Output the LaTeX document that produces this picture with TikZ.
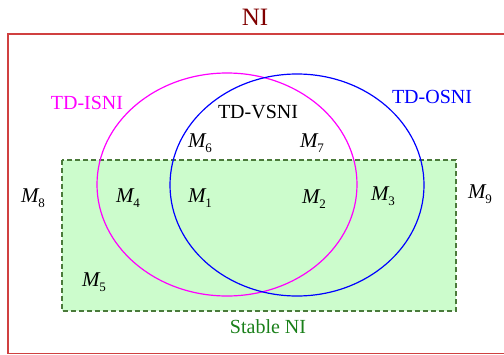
\documentclass[tikz,border=0pt]{standalone}
\usepackage{fontspec}
\setmainfont{Liberation Serif}
\usetikzlibrary{shapes.geometric}
\definecolor{nired}{HTML}{D04040}
\definecolor{nitext}{HTML}{800000}
\definecolor{stfill}{HTML}{CCFCCC}
\definecolor{stborder}{HTML}{4A7A3A}
\definecolor{sttext}{HTML}{1A801A}
\definecolor{isnicol}{HTML}{FF00FF}
\definecolor{osnicol}{HTML}{0000FF}
\newcommand{\Mlab}[1]{{\itshape M}\raisebox{-5pt}{\fontsize{13}{13}\selectfont #1}}
\tikzset{
  setell/.style={ellipse, draw, line width=1.2pt, inner sep=0pt},
  title/.style={font=\rmfamily\fontsize{20}{22}\selectfont, inner sep=0pt},
  mlabel/.style={font=\rmfamily\fontsize{21}{22}\selectfont, inner sep=0pt}
}
\begin{document}
\begin{tikzpicture}[x=1pt,y=-1pt]
\useasboundingbox (0,0) rectangle (504,354);
\fill[white] (0,0) rectangle (504,354);
% NI universe
\draw[nired, line width=1.5pt] (8,34) rectangle (520,353.5);
\node[font=\rmfamily\fontsize{25}{27}\selectfont, text=nitext, inner sep=0pt] (ni) at (255,17) {NI};
% Stable NI
\draw[stborder, fill=stfill, line width=1.2pt, dash pattern=on 5pt off 3pt] (62,160) rectangle (456,311);
\node[title, text=sttext] (stable) at (268,327) {Stable NI};
% ellipses
\node[setell, isnicol, minimum width=260pt, minimum height=223pt] (isni) at (227,184.5) {};
\node[setell, osnicol, minimum width=254pt, minimum height=222pt] (osni) at (297,185) {};
% set labels
\node[title, text=isnicol] (lisni) at (87,103) {TD-ISNI};
\node[title, text=black] (lvsni) at (258,112) {TD-VSNI};
\node[title, text=osnicol] (losni) at (432,97) {TD-OSNI};
% region labels
\node[mlabel] (m6) at (200,143) {\Mlab{6}};
\node[mlabel] (m7) at (312,143) {\Mlab{7}};
\node[mlabel] (m8) at (33,198) {\Mlab{8}};
\node[mlabel] (m4) at (128,198) {\Mlab{4}};
\node[mlabel] (m1) at (200,198) {\Mlab{1}};
\node[mlabel] (m2) at (314,199) {\Mlab{2}};
\node[mlabel] (m3) at (383,196) {\Mlab{3}};
\node[mlabel] (m9) at (480,194) {\Mlab{9}};
\node[mlabel] (m5) at (94,282) {\Mlab{5}};
\end{tikzpicture}
\end{document}
